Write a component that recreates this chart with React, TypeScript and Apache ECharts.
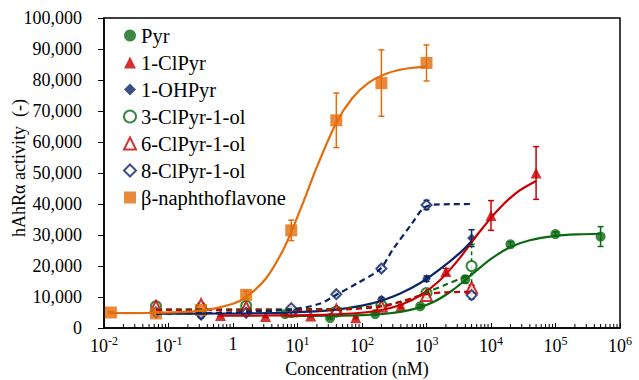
import React, { useEffect, useRef } from 'react';
import * as echarts from 'echarts';

const GREEN = '#0A6A12';
const RED = '#C80000';
const NAVY = '#0A2464';
const ORANGE = '#E46C0A';
const FONT = 'Liberation Serif';

// concentrations (nM)
const pyrConc = [6.4, 32, 160, 800, 4000, 20000, 100000, 500000];
const clPyrConc = [0.64, 3.2, 16, 80, 400, 2000, 10000, 50000];
const olConc = [0.064, 0.32, 1.6, 8, 40, 200, 1000, 5000];
const bnfConc = [0.0128, 0.064, 0.32, 1.6, 8, 40, 200, 1000];

// measured activity
const pyrVals = [4500, 3200, 4500, 7000, 15700, 27000, 30300, 29500];
const pyrErr = [400, 300, 400, 500, 1200, 800, 700, 3200];
const clPyrVals = [4000, 3700, 3900, 3300, 7000, 18200, 36300, 50000];
const clPyrErr = [300, 300, 300, 300, 500, 1000, 4800, 8500];
const ohPyrVals = [5200, 3700, 4800, 5200, 6000, 9300, 15900, 29000];
const ohPyrErr = [300, 300, 300, 300, 400, 600, 900, 2700];
const cl3Vals = [7000, 6500, 7200, 5200, 5300, 7300, 11300, 20000];
const cl3Err = [500, 500, 500, 400, 400, 500, 800, 7000];
const cl6Vals = [7000, 7600, 6700, 5500, 5800, 7000, 10500, 13000];
const cl6Err = [400, 400, 400, 400, 400, 500, 700, 800];
const cl8Vals = [5000, 4500, 4900, 6400, 10900, 19200, 39700, 10600];
const cl8Err = [300, 300, 300, 400, 600, 800, 1500, 1200];
const bnfVals = [5000, 4700, 5800, 10700, 31500, 67000, 79000, 85500];
const bnfErr = [300, 300, 400, 1200, 3300, 8800, 10700, 5800];

// fitted curves
const pyrFitX = [6.4, 32, 100, 250, 630, 1260, 2500, 5000, 10000, 20000, 40000, 100000, 224000, 500000];
const pyrFitY = [3900, 3970, 4170, 4670, 6080, 8300, 12100, 17200, 22300, 26100, 28300, 29700, 30200, 30400];
const clPyrFitX = [0.64, 3.2, 16, 80, 200, 400, 800, 1600, 3200, 6300, 12600, 25000, 50000];
const clPyrFitY = [4000, 4030, 4160, 4760, 5800, 7500, 10500, 15300, 22300, 30400, 37900, 43700, 47400];
const ohPyrFitX = [0.064, 0.32, 1.6, 8, 40, 100, 200, 400, 800, 1600, 3200, 5000];
const ohPyrFitY = [4610, 4640, 4730, 5000, 5950, 7200, 8800, 11200, 14500, 18900, 24000, 28000];
const cl3FitX = [0.064, 1.6, 40, 200, 500, 1000, 2000, 5000];
const cl3FitY = [6000, 6000, 6200, 7200, 9000, 11500, 14000, 17500];
const cl6FitX = [0.064, 1.6, 40, 200, 400, 1000, 2000, 5000];
const cl6FitY = [5800, 5800, 5900, 6900, 8500, 10900, 11500, 11700];
const cl8FitX = [0.064, 0.32, 1.6, 8, 22, 40, 87, 190, 305, 590, 890, 1300, 5000];
const cl8FitY = [4600, 4800, 5200, 6000, 7800, 10700, 14600, 19000, 25500, 33600, 38600, 39800, 40000];
const bnfFitX = [0.0128, 0.063, 0.32, 1, 1.6, 3.2, 5.6, 7.9, 12.6, 20, 40, 71, 126, 250, 500, 1000];
const bnfFitY = [4820, 4920, 5600, 7840, 10000, 15800, 24000, 30700, 41200, 52000, 66200, 74200, 79100, 82200, 83700, 84300];

// axis ticks and titles
const xTicks = [0.01, 0.1, 1, 10, 100, 1000, 10000, 100000, 1000000];
const yTicks = [0, 10000, 20000, 30000, 40000, 50000, 60000, 70000, 80000, 90000, 100000];
const xTitle = 'Concentration (nM)';
const yTitle = 'hAhRα activity  (-)';

const seriesNames = ['Pyr', '1-ClPyr', '1-OHPyr', '3-ClPyr-1-ol', '6-ClPyr-1-ol', '8-ClPyr-1-ol', 'β-naphthoflavone'];

const compounds = [
  { name: seriesNames[0], color: GREEN, symbol: 'circle', size: 10, empty: false, dashed: false, conc: pyrConc, vals: pyrVals, err: pyrErr, fx: pyrFitX, fy: pyrFitY },
  { name: seriesNames[1], color: RED, symbol: 'triangle', size: 11, empty: false, dashed: false, conc: clPyrConc, vals: clPyrVals, err: clPyrErr, fx: clPyrFitX, fy: clPyrFitY },
  { name: seriesNames[2], color: NAVY, symbol: 'diamond', size: 9, empty: false, dashed: false, conc: olConc, vals: ohPyrVals, err: ohPyrErr, fx: ohPyrFitX, fy: ohPyrFitY },
  { name: seriesNames[3], color: GREEN, symbol: 'circle', size: 10, empty: true, dashed: true, conc: olConc, vals: cl3Vals, err: cl3Err, fx: cl3FitX, fy: cl3FitY },
  { name: seriesNames[4], color: RED, symbol: 'triangle', size: 11, empty: true, dashed: true, conc: olConc, vals: cl6Vals, err: cl6Err, fx: cl6FitX, fy: cl6FitY },
  { name: seriesNames[5], color: NAVY, symbol: 'diamond', size: 10, empty: true, dashed: true, conc: olConc, vals: cl8Vals, err: cl8Err, fx: cl8FitX, fy: cl8FitY },
  { name: seriesNames[6], color: ORANGE, symbol: 'rect', size: 12, empty: false, dashed: false, conc: bnfConc, vals: bnfVals, err: bnfErr, fx: bnfFitX, fy: bnfFitY },
];

const minorTicks: number[] = [];
for (let e = -2; e < 6; e++) {
  for (let m = 2; m <= 9; m++) minorTicks.push(m * Math.pow(10, e));
}

export default function App() {
  const ref = useRef<HTMLDivElement>(null);
  useEffect(() => {
    const chart = echarts.init(ref.current as HTMLDivElement, null, { renderer: 'svg' });
    const series: any[] = [];
    // minor log ticks
    series.push({
      type: 'custom',
      name: 'minorTicks',
      silent: true,
      clip: false,
      data: minorTicks.map((v) => [v, 0]),
      encode: { x: 0, y: 1 },
      renderItem: (params: any, api: any) => {
        const p = api.coord([api.value(0), 0]);
        return {
          type: 'line',
          shape: { x1: p[0], y1: p[1], x2: p[0], y2: p[1] - 4 },
          style: { stroke: '#000', lineWidth: 1 },
        };
      },
    });
    // x tick labels
    series.push({
      type: 'custom',
      name: 'xLabels',
      silent: true,
      clip: false,
      data: xTicks.map((v) => [v, 0]),
      encode: { x: 0, y: 1 },
      renderItem: (params: any, api: any) => {
        const v = api.value(0);
        const p = api.coord([v, 0]);
        const e = Math.round(Math.log10(v));
        const text = e === 0 ? '{base|1}' : '{base|10}{sup|' + e + '}';
        return {
          type: 'text',
          x: p[0],
          y: p[1] + 7,
          style: {
            text,
            fill: '#000',
            fontFamily: FONT,
            fontSize: 18,
            align: 'center',
            verticalAlign: 'top',
            rich: {
              base: { fontSize: 18, fontFamily: FONT, fill: '#000' },
              sup: { fontSize: 12, fontFamily: FONT, fill: '#000', padding: [0, 0, 9, 0] },
            },
          },
        };
      },
    });
    // y tick labels
    series.push({
      type: 'custom',
      name: 'yLabels',
      silent: true,
      clip: false,
      data: yTicks.map((v) => [0.01, v]),
      encode: { x: 0, y: 1 },
      renderItem: (params: any, api: any) => {
        const v = api.value(1);
        const p = api.coord([0.01, v]);
        return {
          type: 'text',
          x: p[0] - 22,
          y: p[1],
          style: {
            text: Number(v).toLocaleString('en-US'),
            fill: '#000',
            fontFamily: FONT,
            fontSize: 18,
            align: 'right',
            verticalAlign: 'middle',
          },
        };
      },
    });
    compounds.forEach((c) => {
      const dash = c.dashed ? [4, 3] : undefined;
      series.push({
        type: 'line',
        name: c.name + ' fit',
        data: c.fx.map((x, i) => [x, c.fy[i]]),
        showSymbol: false,
        smooth: 0.3,
        silent: true,
        lineStyle: { color: c.color, width: 2.2, type: c.dashed ? [6, 4] : 'solid' },
        itemStyle: { color: c.color },
      });
      series.push({
        type: 'custom',
        name: c.name + ' err',
        silent: true,
        data: c.conc.map((x, i) => [x, c.vals[i], c.err[i]]),
        encode: { x: 0, y: 1 },
        renderItem: (params: any, api: any) => {
          const x = api.value(0);
          const y = api.value(1);
          const e = api.value(2);
          const t = api.coord([x, y + e]);
          const b = api.coord([x, y - e]);
          const hw = 3;
          const st = { stroke: c.color, lineWidth: 1.5, lineDash: dash };
          const st2 = { stroke: c.color, lineWidth: 1.5 };
          return {
            type: 'group',
            children: [
              { type: 'line', shape: { x1: t[0], y1: t[1], x2: b[0], y2: b[1] }, style: st },
              { type: 'line', shape: { x1: t[0] - hw, y1: t[1], x2: t[0] + hw, y2: t[1] }, style: st2 },
              { type: 'line', shape: { x1: b[0] - hw, y1: b[1], x2: b[0] + hw, y2: b[1] }, style: st2 },
            ],
          };
        },
      });
      series.push({
        type: 'scatter',
        name: c.name,
        data: c.conc.map((x, i) => [x, c.vals[i]]),
        symbol: c.symbol,
        symbolSize: c.size,
        itemStyle: c.empty
          ? { color: '#fff', borderColor: c.color, borderWidth: 2 }
          : { color: c.color },
      });
    });

    const option: any = {
      animation: false,
      backgroundColor: '#fff',
      grid: { left: 104, right: 19, top: 18, bottom: 52, show: true, borderColor: '#000', borderWidth: 1.5 },
      legend: {
        data: seriesNames,
        orient: 'vertical',
        left: 118,
        top: 20,
        itemWidth: 12,
        itemHeight: 12,
        itemGap: 6,
        textStyle: { fontFamily: FONT, fontSize: 20.5, color: '#000' },
        selectedMode: false,
      },
      graphic: [
        {
          type: 'text',
          x: 357,
          y: 369,
          silent: true,
          style: { text: xTitle, fill: '#000', fontFamily: FONT, fontSize: 18, align: 'center', verticalAlign: 'middle' },
        },
        {
          type: 'text',
          x: 19,
          y: 168,
          rotation: Math.PI / 2,
          silent: true,
          style: { text: yTitle, fill: '#000', fontFamily: FONT, fontSize: 18, align: 'center', verticalAlign: 'middle' },
        },
      ],
      xAxis: {
        type: 'log',
        logBase: 10,
        min: 0.01,
        max: 1000000,
        splitNumber: 8,
        axisLine: { lineStyle: { color: '#000', width: 1.5 } },
        axisTick: { show: true, inside: true, length: 5, lineStyle: { color: '#000', width: 1 } },
        splitLine: { show: false },
        axisLabel: { show: false },
      },
      yAxis: {
        type: 'value',
        min: 0,
        max: 100000,
        interval: 10000,
        axisLine: { show: true, lineStyle: { color: '#000', width: 1.5 } },
        axisTick: { show: true, length: 6, lineStyle: { color: '#000', width: 1 } },
        splitLine: { show: false },
        axisLabel: { show: false },
      },
      series,
    };
    chart.setOption(option);
    return () => chart.dispose();
  }, []);
  return (
    <div
      ref={ref}
      style={{ position: 'fixed', left: 0, top: 0, width: 639, height: 380, background: '#fff' }}
    />
  );
}
